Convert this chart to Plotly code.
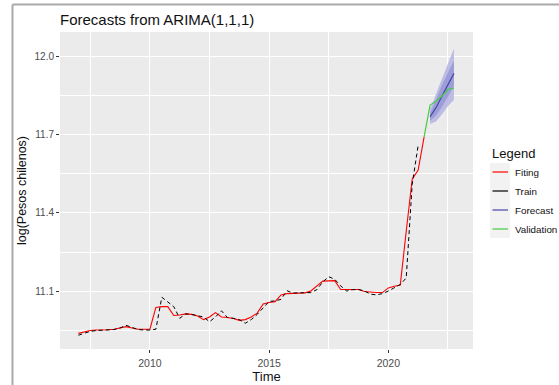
import plotly.graph_objects as go

# ---- data (quarterly) ----
train_t0 = 2007.0
train_vals = [10.930, 10.938, 10.945, 10.948, 10.950, 10.950, 10.952, 10.958,
              10.968, 10.960, 10.952, 10.950, 10.950, 10.953, 11.076, 11.058,
              11.040, 10.995, 11.012, 11.010, 11.005, 11.000, 10.982, 11.000,
              11.024, 10.998, 10.995, 10.990, 10.976, 10.990, 11.010, 11.035,
              11.060, 11.062, 11.068, 11.101, 11.092, 11.093, 11.093, 11.094,
              11.105, 11.135, 11.155, 11.145, 11.120, 11.100, 11.105, 11.106,
              11.100, 11.088, 11.085, 11.090, 11.100, 11.114, 11.125, 11.150,
              11.510, 11.660]
fit_vals = [10.937, 10.942, 10.948, 10.950, 10.950, 10.951, 10.953, 10.957,
            10.963, 10.958, 10.953, 10.953, 10.953, 11.037, 11.040, 11.040,
            11.006, 11.008, 11.012, 11.010, 11.004, 10.990, 11.000, 11.017,
            11.000, 10.998, 10.994, 10.987, 10.990, 11.000, 11.015, 11.050,
            11.056, 11.059, 11.085, 11.090, 11.091, 11.092, 11.093, 11.100,
            11.120, 11.138, 11.139, 11.140, 11.106, 11.106, 11.106, 11.106,
            11.098, 11.095, 11.094, 11.094, 11.112, 11.118, 11.123, 11.330,
            11.530, 11.565, 11.693]
valid_t = [2021.5, 2021.75, 2022.0, 2022.25, 2022.5, 2022.75]
valid_vals = [11.693, 11.815, 11.830, 11.850, 11.875, 11.880]
fc_t = [2021.75, 2022.0, 2022.25, 2022.5, 2022.75]
fc_mean = [11.770, 11.805, 11.850, 11.893, 11.937]
fc_lo80 = [11.755, 11.775, 11.808, 11.847, 11.888]
fc_hi80 = [11.785, 11.835, 11.893, 11.940, 11.985]
fc_lo95 = [11.742, 11.752, 11.780, 11.810, 11.835]
fc_hi95 = [11.800, 11.860, 11.920, 11.975, 12.033]

x_ticks = [2010, 2015, 2020]
y_ticks = [11.1, 11.4, 11.7, 12.0]

legend_names = ["Fiting", "Train", "Forecast", "Validation"]
COL_FIT, COL_TRAIN, COL_FC, COL_VALID = "#ff0000", "#000000", "#4545aa", "#44cc44"
legend_colors = [COL_FIT, COL_TRAIN, COL_FC, COL_VALID]

train_t = [train_t0 + 0.25 * i for i in range(len(train_vals))]
fit_t = [train_t0 + 0.25 * i for i in range(len(fit_vals))]

FONT = "Liberation Sans, Arial, sans-serif"

fig = go.Figure()
# 95% band
fig.add_trace(go.Scatter(x=fc_t + fc_t[::-1], y=fc_hi95 + fc_lo95[::-1],
                         fill="toself", fillcolor="#bcbce4", line=dict(width=0),
                         mode="lines", showlegend=False, hoverinfo="skip"))
# 80% band
fig.add_trace(go.Scatter(x=fc_t + fc_t[::-1], y=fc_hi80 + fc_lo80[::-1],
                         fill="toself", fillcolor="#9d9dd8", line=dict(width=0),
                         mode="lines", showlegend=False, hoverinfo="skip"))
fig.add_trace(go.Scatter(x=fc_t, y=fc_mean, mode="lines", name="Forecast",
                         line=dict(color=COL_FC, width=1.2), showlegend=False))
fig.add_trace(go.Scatter(x=fit_t, y=fit_vals, mode="lines", name="Fiting",
                         line=dict(color=COL_FIT, width=1.1), showlegend=False))
fig.add_trace(go.Scatter(x=train_t, y=train_vals, mode="lines", name="Train",
                         line=dict(color=COL_TRAIN, width=1.0, dash="4px,3px"),
                         showlegend=False))
fig.add_trace(go.Scatter(x=valid_t, y=valid_vals, mode="lines", name="Validation",
                         line=dict(color=COL_VALID, width=1.2), showlegend=False))

# plot area pixels: x 60..473, y 32..349
L, R, T, B = 60, 473, 32, 349
W, H = 559, 385
pw, ph = R - L, B - T
def px_x(p):
    return (p - L) / pw
def px_y(p):
    return (B - p) / ph

shapes = [
    dict(type="line", xref="paper", yref="paper",
         x0=px_x(12.5), x1=px_x(W + 2), y0=px_y(4.5), y1=px_y(4.5),
         line=dict(color="#aaaaaa", width=2)),
    dict(type="line", xref="paper", yref="paper",
         x0=px_x(12.5), x1=px_x(12.5), y0=px_y(4.5), y1=px_y(H + 2),
         line=dict(color="#aaaaaa", width=2)),
    # legend key background
    dict(type="rect", xref="paper", yref="paper",
         x0=px_x(490), x1=px_x(510), y0=px_y(163), y1=px_y(238),
         fillcolor="#f2f2f2", line=dict(width=0)),
]
annotations = [
    dict(text="Legend", xref="paper", yref="paper", x=px_x(490), y=px_y(153),
         xanchor="left", yanchor="middle", showarrow=False,
         font=dict(size=13, color="#111111", family=FONT)),
]
key_y = [172, 191, 210, 229]
for name, col, ky in zip(legend_names, legend_colors, key_y):
    shapes.append(dict(type="line", xref="paper", yref="paper",
                       x0=px_x(492.5), x1=px_x(508), y0=px_y(ky), y1=px_y(ky),
                       line=dict(color=col, width=1.2)))
    annotations.append(dict(text=name, xref="paper", yref="paper",
                            x=px_x(512.5), y=px_y(ky), xanchor="left",
                            yanchor="middle", showarrow=False,
                            font=dict(size=9.8, color="#111111", family=FONT)))

fig.update_layout(
    width=W, height=H,
    margin=dict(l=L, r=W - R, t=T, b=H - B),
    paper_bgcolor="white", plot_bgcolor="#ebebeb",
    font=dict(family=FONT, color="#000000"),
    title=dict(text="Forecasts from ARIMA(1,1,1)", x=L / W, xanchor="left",
               y=1 - 20 / H, yanchor="middle",
               font=dict(size=15, color="#111111")),
    showlegend=False,
    xaxis=dict(range=[2006.23, 2023.55], tickvals=x_ticks,
               ticktext=[str(v) for v in x_ticks],
               showgrid=True, gridcolor="white", gridwidth=1.1,
               minor=dict(dtick=2.5, tick0=2007.5, showgrid=True,
                          gridcolor="white", gridwidth=0.5),
               ticks="outside", ticklen=3, tickcolor="#333333", tickwidth=1,
               ticklabelstandoff=1,
               tickfont=dict(size=10.5, color="#4d4d4d"),
               title=dict(text="Time", font=dict(size=13, color="#111111"),
                          standoff=0),
               zeroline=False, showline=False, automargin=False),
    yaxis=dict(range=[10.877, 12.096], tickvals=y_ticks,
               ticktext=["%.1f" % v for v in y_ticks],
               showgrid=True, gridcolor="white", gridwidth=1.1,
               minor=dict(dtick=0.15, tick0=10.95, showgrid=True,
                          gridcolor="white", gridwidth=0.5),
               ticks="outside", ticklen=3, tickcolor="#333333", tickwidth=1,
               tickfont=dict(size=10, color="#4d4d4d"),
               title=dict(text="log(Pesos chilenos)",
                          font=dict(size=12.5, color="#111111"), standoff=5),
               zeroline=False, showline=False, automargin=False),
    shapes=shapes,
    annotations=annotations,
)

fig.write_html("out.html")
